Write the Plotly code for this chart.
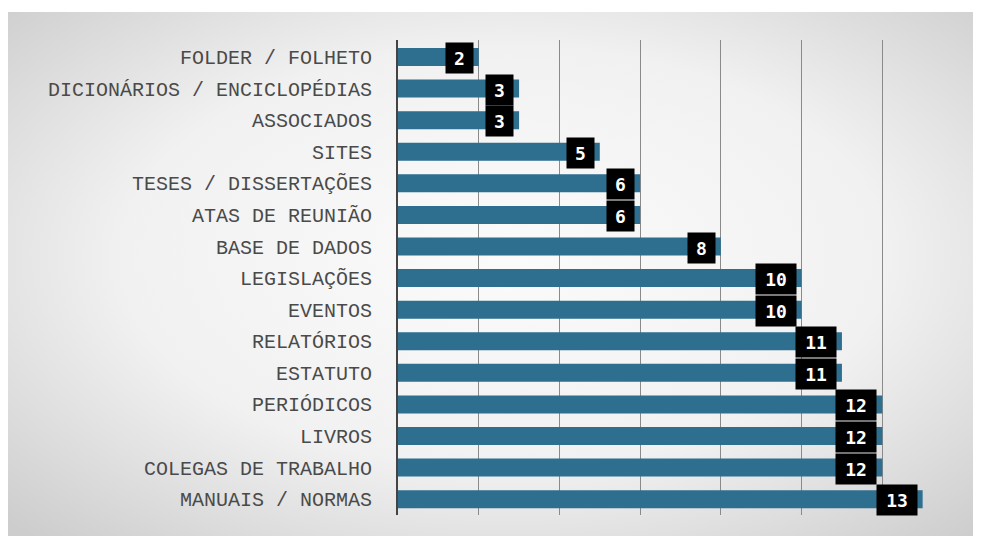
import base64
import plotly.graph_objects as go

categories = [
    "FOLDER / FOLHETO", "DICIONÁRIOS / ENCICLOPÉDIAS", "ASSOCIADOS", "SITES",
    "TESES / DISSERTAÇÕES", "ATAS DE REUNIÃO", "BASE DE DADOS", "LEGISLAÇÕES",
    "EVENTOS", "RELATÓRIOS", "ESTATUTO", "PERIÓDICOS", "LIVROS",
    "COLEGAS DE TRABALHO", "MANUAIS / NORMAS",
]
values = [2, 3, 3, 5, 6, 6, 8, 10, 10, 11, 11, 12, 12, 12, 13]

W, H = 973, 528
L, R, T, B = 390, 18, 32, 21

fig = go.Figure()
fig.add_trace(go.Bar(
    x=values, y=categories, orientation="h",
    marker=dict(color="#2e6e8f", line=dict(width=0)),
    width=0.57, hoverinfo="x+y",
))

for c, v in zip(categories, values):
    fig.add_annotation(
        x=v, y=c, xref="x", yref="y", text=f"<b>{v}</b>", showarrow=False,
        xanchor="right", yanchor="middle", xshift=-5, yshift=-1,
        bgcolor="black", font=dict(family="DejaVu Sans Mono", size=18, color="white"),
        width=13 * len(str(v)) + 8, height=24, borderpad=3, align="center",
    )

svg = (
    '<svg xmlns="http://www.w3.org/2000/svg" width="1000" height="600" preserveAspectRatio="none">'
    '<defs><radialGradient id="g" cx="50%" cy="45%" r="70%">'
    '<stop offset="0%" stop-color="#fbfbfb"/><stop offset="55%" stop-color="#f1f1f1"/>'
    '<stop offset="100%" stop-color="#cdcdcd"/></radialGradient></defs>'
    '<rect width="1000" height="600" fill="url(#g)"/></svg>'
)
src = "data:image/svg+xml;base64," + base64.b64encode(svg.encode()).decode()
pw, ph = W - L - R, H - T - B
x0 = (0 - L) / pw
x1 = (W + 20 - L) / pw
y0 = (H - B - 4) / ph
y1 = (-B - 20) / ph
fig.add_layout_image(dict(source=src, xref="paper", yref="paper", x=x0, y=y0,
                          sizex=x1 - x0, sizey=y0 - y1, sizing="stretch",
                          xanchor="left", yanchor="top", layer="below"))

fig.update_layout(
    width=W, height=H, margin=dict(l=L, r=R, t=T, b=B),
    paper_bgcolor="white", plot_bgcolor="rgba(0,0,0,0)",
    showlegend=False, bargap=0.43,
    xaxis=dict(range=[0, 14], dtick=2, showgrid=True, gridcolor="#8a8a8a",
               gridwidth=1, showticklabels=False, zeroline=False, showline=False),
    yaxis=dict(autorange="reversed", showline=True, linecolor="#444", linewidth=2,
               showgrid=False, ticks="", ticklabelstandoff=20,
               tickfont=dict(family="Liberation Mono", size=20, color="#4a4a4a")),
)

fig.write_html("out.html")
